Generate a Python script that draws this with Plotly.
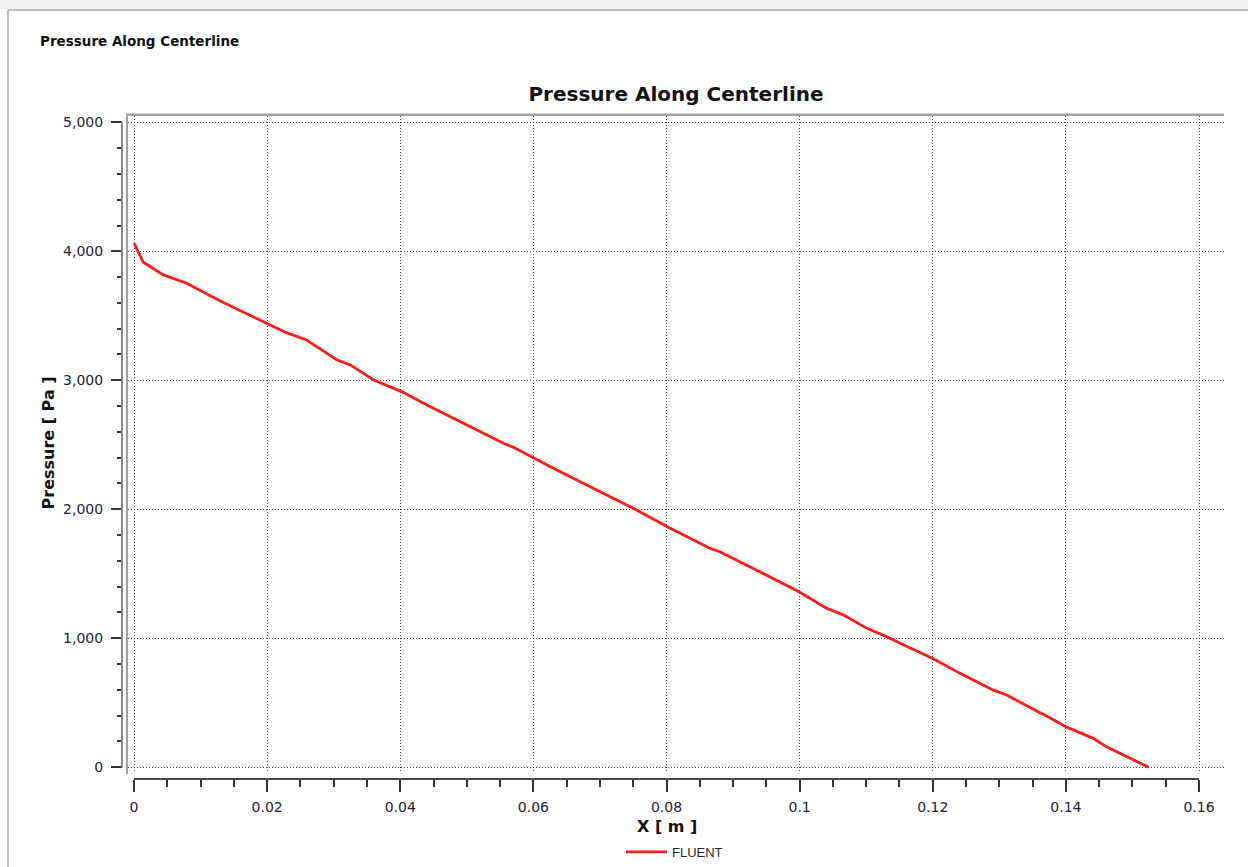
import plotly.graph_objects as go

# Centerline pressure profile (FLUENT export)
x_m = [0.0, 0.0014, 0.0044, 0.0079, 0.0129, 0.0169, 0.0199, 0.0229, 0.0259,
       0.0305, 0.0325, 0.0360, 0.0402, 0.0440, 0.0485, 0.0515, 0.0555, 0.0570,
       0.0601, 0.0630, 0.0680, 0.0695, 0.0730, 0.0755, 0.0802, 0.0825, 0.0865,
       0.0880, 0.0925, 0.0940, 0.0999, 0.1041, 0.1066, 0.1101, 0.1131, 0.1151,
       0.1200, 0.1241, 0.1291, 0.1311, 0.1361, 0.1371, 0.1400, 0.1441, 0.1461,
       0.1491, 0.1524]
pressure_pa = [4063, 3915, 3817, 3752, 3617, 3514, 3442, 3369, 3313,
               3157, 3119, 3002, 2912, 2808, 2692, 2614, 2511, 2480,
               2395, 2317, 2188, 2149, 2058, 1994, 1862, 1800, 1697,
               1670, 1549, 1515, 1360, 1231, 1179, 1076, 1011, 960,
               843, 727, 597, 559, 421, 396, 313, 223, 157,
               80, 0]

x_tick_vals = [0, 0.02, 0.04, 0.06, 0.08, 0.1, 0.12, 0.14, 0.16]
x_tick_text = ["0", "0.02", "0.04", "0.06", "0.08", "0.1", "0.12", "0.14", "0.16"]
y_tick_vals = [0, 1000, 2000, 3000, 4000, 5000]
y_tick_text = ["0", "1,000", "2,000", "3,000", "4,000", "5,000"]

W, H = 1248, 867


def fx(px):
    return px / W


def fy(px):
    return 1 - px / H


# pixel geometry of the plotting box and data-to-pixel scale
BOX_L, BOX_R, BOX_T, BOX_B = 128, 1224, 116, 774
X0_PX, X16_PX = 134, 1199
Y0_PX, Y5K_PX = 768, 122.5
sx = (X16_PX - X0_PX) / 0.16
sy = (Y0_PX - Y5K_PX) / 5000.0
x_range = [(BOX_L - X0_PX) / sx, (BOX_R - X0_PX) / sx]
y_range = [(Y0_PX - BOX_B) / sy, (Y0_PX - BOX_T) / sy]

tick_font = dict(family="DejaVu Sans", size=14, color="#222233")
grid_dash = "1px,2px"
grid_color = "#4a4a4a"

fig = go.Figure()
fig.add_trace(go.Scatter(
    x=x_m, y=pressure_pa, mode="lines", name="FLUENT",
    line=dict(color="#ff1a1a", width=2.8),
))

fig.update_layout(
    width=W, height=H,
    margin=dict(l=0, r=0, t=0, b=0),
    template="none",
    paper_bgcolor="white",
    plot_bgcolor="white",
    title=dict(
        text="Pressure Along Centerline",
        x=fx(676), xref="container", xanchor="center",
        y=fy(94), yref="container", yanchor="middle",
        font=dict(family="DejaVu Sans", size=20, weight="bold", color="#111111"),
    ),
    xaxis=dict(
        domain=[fx(BOX_L), fx(BOX_R)],
        range=x_range,
        anchor="free", position=fy(780),
        showgrid=True, gridcolor=grid_color, gridwidth=1, griddash=grid_dash,
        zeroline=False, showline=False,
        tickmode="array", tickvals=x_tick_vals, ticktext=x_tick_text,
        ticks="outside", ticklen=12, tickwidth=1.5, tickcolor="#333333",
        tickfont=tick_font, ticklabelstandoff=3,
        minor=dict(ticks="outside", ticklen=7, tickwidth=1.5, tickcolor="#333333",
                   tick0=0, dtick=0.005, showgrid=False),
        automargin=False,
    ),
    yaxis=dict(
        domain=[fy(BOX_B), fy(BOX_T)],
        range=y_range,
        anchor="free", position=fx(122),
        showgrid=True, gridcolor=grid_color, gridwidth=1, griddash=grid_dash,
        zeroline=False, showline=False,
        tickmode="array", tickvals=y_tick_vals, ticktext=y_tick_text,
        ticks="outside", ticklen=11, tickwidth=1.5, tickcolor="#333333",
        tickfont=tick_font, ticklabelstandoff=5,
        minor=dict(ticks="outside", ticklen=5, tickwidth=1.5, tickcolor="#333333",
                   tick0=0, dtick=200, showgrid=False),
        automargin=False,
    ),
    showlegend=True,
    legend=dict(
        x=fx(621), xanchor="left", y=fy(853), yanchor="middle",
        bgcolor="rgba(0,0,0,0)", borderwidth=0,
        font=dict(family="Liberation Sans Narrow, Liberation Sans", size=13, color="#2a2a2a"),
        itemwidth=41,
    ),
)

frame_gray = "#a8a8a8"
shapes = [
    # window strip and frame
    dict(type="rect", xref="paper", yref="paper", x0=-0.01, x1=1.01, y0=fy(9), y1=1.01,
         fillcolor="#f0f0f0", line=dict(width=0), layer="below"),
    dict(type="line", xref="paper", yref="paper", x0=fx(8), x1=1.01, y0=fy(10), y1=fy(10),
         line=dict(color=frame_gray, width=1.5)),
    dict(type="line", xref="paper", yref="paper", x0=fx(8), x1=fx(8), y0=fy(10), y1=-0.01,
         line=dict(color=frame_gray, width=1.5)),
    # plotting box top and left edges
    dict(type="line", xref="paper", yref="paper", x0=fx(127), x1=fx(1224), y0=fy(115), y1=fy(115),
         line=dict(color="#a0a0a0", width=2.5)),
    dict(type="line", xref="paper", yref="paper", x0=fx(127), x1=fx(127), y0=fy(114), y1=fy(775),
         line=dict(color="#a0a0a0", width=2)),
    # axis lines spanning the tick range
    dict(type="line", xref="paper", yref="y", x0=fx(122), x1=fx(122), y0=0, y1=5000,
         line=dict(color="#8c8c8c", width=2)),
    dict(type="line", xref="x", yref="paper", x0=0, x1=0.16, y0=fy(780), y1=fy(780),
         line=dict(color="#444444", width=2)),
]
fig.update_layout(shapes=shapes)

label_font = dict(family="DejaVu Sans", size=16, weight="bold", color="#111111")
fig.add_annotation(text="Pressure Along Centerline", x=fx(38), y=fy(41),
                   xref="paper", yref="paper", xanchor="left", yanchor="middle",
                   showarrow=False,
                   font=dict(family="DejaVu Sans", size=13.5, weight="bold", color="#111111"))
fig.add_annotation(text="X [ m ]", x=fx(667), y=fy(827), xref="paper", yref="paper",
                   xanchor="center", yanchor="middle", showarrow=False, font=label_font)
fig.add_annotation(text="Pressure [ Pa ]", x=fx(48), y=fy(444), xref="paper", yref="paper",
                   xanchor="center", yanchor="middle", textangle=-90, showarrow=False,
                   font=label_font)

fig.write_html("out.html")
